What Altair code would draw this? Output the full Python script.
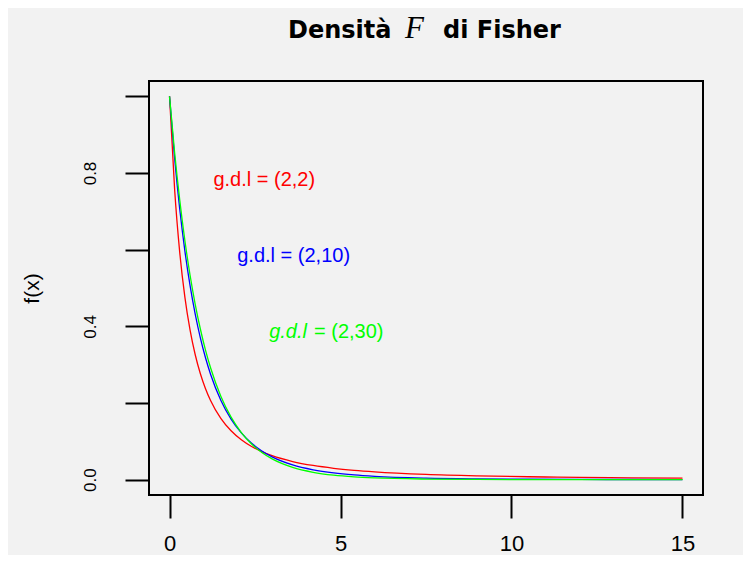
import altair as alt
import pandas as pd

# x grid and density values
x_vals = [0, 0.15, 0.3, 0.45, 0.6, 0.75, 0.9, 1.05, 1.2, 1.5, 1.8, 2.1, 2.4, 2.7, 3.0,
          3.6, 4.2, 4.8, 5.4, 6.0, 7.5, 9.0, 10.5, 12.0, 13.5, 15.0]
f_2_2 = [1.0, 0.7561, 0.5917, 0.4756, 0.3906, 0.3265, 0.2770, 0.2380, 0.2066, 0.16,
         0.1276, 0.1041, 0.0865, 0.0730, 0.0625, 0.0473, 0.0370, 0.0297, 0.0244, 0.0204,
         0.0138, 0.0100, 0.00756, 0.00592, 0.00476, 0.00391]
f_2_10 = [1.0, 0.8375, 0.7050, 0.5963, 0.5066, 0.4323, 0.3704, 0.3186, 0.2751, 0.2072,
          0.1580, 0.1220, 0.0951, 0.0750, 0.0596, 0.0386, 0.0258, 0.01764, 0.01235, 0.00882,
          0.00410, 0.00208, 0.00113, 0.000647, 0.00039, 0.000244]
f_2_30 = [1.0, 0.8528, 0.7285, 0.6232, 0.5339, 0.4581, 0.3937, 0.3387, 0.2919, 0.2176,
          0.1631, 0.1229, 0.0930, 0.0708, 0.0541, 0.0320, 0.0193, 0.01177, 0.00730, 0.00459,
          0.00152, 0.000542, 0.000206, 0.0000823, 0.0000347, 0.0000153]

series_names = ["1: (2,2)", "2: (2,10)", "3: (2,30)"]
series_colors = ["#ff0000", "#0000ff", "#00ff00"]

label_text = ["g.d.l = (2,2)", "g.d.l = (2,10)", "g.d.l", "= (2,30)"]
label_x = [2.77, 3.63, 4.02, 4.02]
label_y = [0.782, 0.584, 0.384, 0.384]
label_color = ["#ff0000", "#0000ff", "#00ff00", "#00ff00"]
label_align = ["center", "center", "right", "left"]
label_style = ["normal", "normal", "italic", "normal"]
label_dx = [0, 0, 0, 7]

x_ticks = [0, 5, 10, 15]
y_ticks = [0, 0.2, 0.4, 0.6, 0.8, 1.0]

rows = []
for name, ys in zip(series_names, [f_2_2, f_2_10, f_2_30]):
    for xv, yv in zip(x_vals, ys):
        rows.append({"x": xv, "y": yv, "serie": name})
df = pd.DataFrame(rows)

lab = pd.DataFrame({"t": label_text, "x": label_x, "y": label_y})

xscale = alt.Scale(domain=[-0.6, 15.6], nice=False, zero=False)
yscale = alt.Scale(domain=[-0.04, 1.04], nice=False, zero=False)

lines = alt.Chart(df).mark_line(strokeWidth=1.3, interpolate="monotone").encode(
    x=alt.X("x:Q", scale=xscale, title=None,
            axis=alt.Axis(values=x_ticks, domain=False, grid=False, tickSize=23,
                          tickWidth=2, tickColor="black", labelFont="Liberation Sans",
                          labelFontSize=22, labelColor="black", labelPadding=15,
                          labelFlush=False)),
    y=alt.Y("y:Q", scale=yscale, title="f(x)",
            axis=alt.Axis(values=y_ticks, domain=False, grid=False, tickSize=24,
                          tickWidth=2, tickColor="black", labelFont="Liberation Sans",
                          labelFontSize=17, labelColor="black", labelAngle=270,
                          labelAlign="center", labelBaseline="alphabetic", labelPadding=30,
                          labelFlush=False,
                          labelExpr="(round(datum.value*10) % 4 == 0) ? format(datum.value, '.1f') : ''",
                          titleFont="Liberation Sans", titleFontSize=21,
                          titleFontWeight="normal", titleColor="black",
                          titleX=-117, titleBaseline="middle")),
    color=alt.Color("serie:N", scale=alt.Scale(domain=series_names, range=series_colors),
                    legend=None),
)

label_layers = []
for i in range(len(label_text)):
    sub = lab.iloc[[i]]
    label_layers.append(
        alt.Chart(sub).mark_text(font="Liberation Sans", fontSize=20, baseline="middle",
                                 align=label_align[i], fontStyle=label_style[i],
                                 color=label_color[i], dx=label_dx[i]).encode(
            x=alt.X("x:Q", scale=xscale),
            y=alt.Y("y:Q", scale=yscale),
            text="t:N",
        )
    )

title_df = pd.DataFrame({"a": [1]})
t1 = alt.Chart(title_df).mark_text(text="Densità", font="DejaVu Sans", fontWeight="bold",
                                   fontSize=24, align="left", baseline="alphabetic",
                                   color="black").encode(x=alt.value(139), y=alt.value(-43))
t2 = alt.Chart(title_df).mark_text(text="F", font="Liberation Serif", fontStyle="italic",
                                   fontSize=31, align="left", baseline="alphabetic",
                                   color="black").encode(x=alt.value(256), y=alt.value(-43))
t3 = alt.Chart(title_df).mark_text(text="di Fisher", font="DejaVu Sans", fontWeight="bold",
                                   fontSize=24, align="left", baseline="alphabetic",
                                   color="black").encode(x=alt.value(294), y=alt.value(-43))

chart = alt.layer(lines, *label_layers, t1, t2, t3).properties(
    width=554, height=414,
    autosize=alt.AutoSizeParams(type="none"),
    padding={"left": 141, "top": 73, "right": 40, "bottom": 60},
).configure(background="#f2f2f2").configure_view(stroke="black", strokeWidth=2, fill=None)

chart.save("out.html", embed_options={"renderer": "svg", "actions": False})
